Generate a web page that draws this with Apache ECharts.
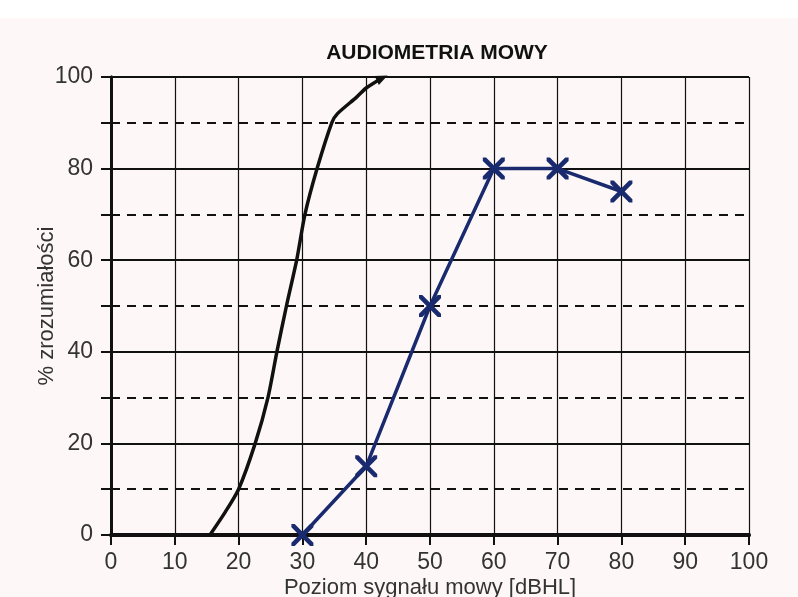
<!DOCTYPE html>
<html><head><meta charset="utf-8">
<script src="https://cdn.jsdelivr.net/npm/echarts@6/dist/echarts.min.js"></script>
<style>html,body{margin:0;padding:0;background:#fff}#c{width:798px;height:597px}</style>
</head><body><div id="c"></div>
<script>
var xTicks = [0,10,20,30,40,50,60,70,80,90,100];
var patientX = [30,40,50,60,70,80];
var patientY = [0,15,50,80,80,75];
var normalX = [15.5,17.9,20,22.6,24.6,26,27.5,29.1,30.4,32.3,34.6,35.5,38.5,40,42.5];
var normalY = [0,5,10,20,30,40,50,60,70,80,90,92,95.6,97.6,99.8];

var font = "'Liberation Sans Narrow','Liberation Sans',Arial,sans-serif";
var chart = echarts.init(document.getElementById('c'));
var normalData = normalX.map(function(x,i){
  var d = {value:[x, normalY[i]]};
  if (i === normalX.length-1) { d.symbol = 'triangle'; d.symbolSize = [10,12]; d.symbolRotate = -65; }
  return d;
});
var xPath = 'path://M0,0 L3,0 L10,7 L17,0 L20,0 L20,3 L13,10 L20,17 L20,20 L17,20 L10,13 L3,20 L0,20 L0,17 L7,10 L0,3 Z';
chart.setOption({
  backgroundColor: '#fdf8f7',
  graphic: [{type:'rect', shape:{x:0,y:0,width:798,height:18}, style:{fill:'#ffffff'}, z:-10}],
  title: {text:'AUDIOMETRIA MOWY', left:432, top:38, textAlign:'center',
    textStyle:{fontFamily:font, fontSize:21, fontWeight:'bold', color:'#111'}},
  grid: {left:111, right:49, top:77, bottom:62, containLabel:false, outerBoundsMode:'none'},
  xAxis: [{
    type:'value', min:0, max:100, interval:10,
    name:'Poziom sygnału mowy [dBHL]', nameLocation:'middle', nameGap:42, nameMoveOverlap:false,
    nameTextStyle:{fontFamily:font, fontSize:22, color:'#333'},
    axisLine:{show:true, onZero:false, lineStyle:{color:'#111', width:3}},
    axisTick:{show:true, length:10, lineStyle:{color:'#111', width:2}},
    axisLabel:{fontFamily:font, fontSize:23, color:'#333', margin:16},
    splitLine:{show:true, lineStyle:{color:'#111', width:1.2}}
  },{
    type:'value', min:0, max:100, position:'top',
    axisLine:{show:true, lineStyle:{color:'#111', width:4}},
    axisTick:{show:false}, axisLabel:{show:false}, splitLine:{show:false}
  }],
  yAxis: [{
    type:'value', min:0, max:100, interval:20,
    name:'% zrozumiałości', nameLocation:'middle', nameGap:53, nameMoveOverlap:false,
    nameTextStyle:{fontFamily:font, fontSize:22, color:'#333'},
    axisLine:{show:true, onZero:false, lineStyle:{color:'#111', width:3}},
    axisTick:{show:true, length:10, lineStyle:{color:'#111', width:2}},
    minorTick:{show:true, splitNumber:2, length:10, lineStyle:{color:'#111', width:2}},
    axisLabel:{fontFamily:font, fontSize:23, color:'#333', margin:18},
    splitLine:{show:true, lineStyle:{color:'#111', width:1.8}},
    minorSplitLine:{show:true, lineStyle:{color:'#111', width:1.8, type:[9,7]}}
  },{
    type:'value', min:0, max:100, position:'right',
    axisLine:{show:true, lineStyle:{color:'#111', width:3}},
    axisTick:{show:false}, axisLabel:{show:false}, splitLine:{show:false}
  }],
  series: [{
    type:'line', smooth:0.25, data: normalData, showSymbol:true, symbol:'none',
    lineStyle:{color:'#111', width:3.5}, itemStyle:{color:'#111'}, z:3
  },{
    type:'line', data: patientX.map(function(x,i){return [x, patientY[i]];}),
    symbol: xPath, symbolSize: 22,
    lineStyle:{color:'#1a2a6e', width:3.5}, itemStyle:{color:'#1a2a6e'}, z:4
  }]
});
</script></body></html>
